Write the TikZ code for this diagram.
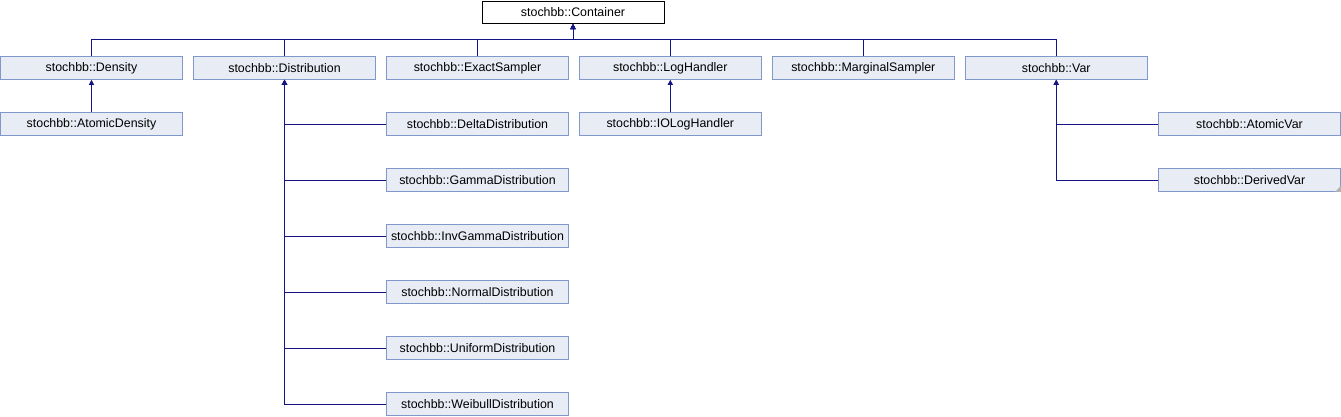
\documentclass[tikz,border=0pt]{standalone}
\usepackage{fontspec}
\setmainfont{Liberation Sans}
\usetikzlibrary{arrows.meta}

\definecolor{boxfill}{RGB}{232,236,245}
\definecolor{boxline}{RGB}{128,152,204}
\definecolor{edgeblue}{RGB}{20,20,135}

\tikzset{
  cls/.style={draw=boxline, fill=boxfill, line width=1pt, minimum width=182pt,
    minimum height=22.5pt, inner sep=0pt, font=\fontsize{12.4}{14}\selectfont},
  root/.style={cls, draw=black, fill=white},
  inherit/.style={draw=edgeblue, line width=1pt, -{Triangle[width=5pt,length=5pt]}}
}

\begin{document}
\begin{tikzpicture}[x=1pt,y=-1pt]
  \useasboundingbox (0,0) rectangle (1341,416);
  % base class
  \node[root] (container) at (573,12.3) {stochbb::Container};
  % first level
  \node[cls] (density) at (91.5,68) {stochbb::Density};
  \node[cls] (distribution) at (284.5,68) {stochbb::Distribution};
  \node[cls] (exactsampler) at (477.5,68) {stochbb::ExactSampler};
  \node[cls] (loghandler) at (670.3,68) {stochbb::LogHandler};
  \node[cls] (marginalsampler) at (863.3,68) {stochbb::MarginalSampler};
  \node[cls] (var) at (1056.2,68) {stochbb::Var};
  % second level
  \node[cls] (atomicdensity) at (91.5,124) {stochbb::AtomicDensity};
  \node[cls] (deltadist) at (477.5,124) {stochbb::DeltaDistribution};
  \node[cls] (gammadist) at (477.5,180) {stochbb::GammaDistribution};
  \node[cls] (invgammadist) at (477.5,236) {stochbb::InvGammaDistribution};
  \node[cls] (normaldist) at (477.5,292) {stochbb::NormalDistribution};
  \node[cls] (uniformdist) at (477.5,348) {stochbb::UniformDistribution};
  \node[cls] (weibulldist) at (477.5,404) {stochbb::WeibullDistribution};
  \node[cls] (iologhandler) at (670.3,124) {stochbb::IOLogHandler};
  \node[cls] (atomicvar) at (1249.5,124) {stochbb::AtomicVar};
  \node[cls] (derivedvar) at (1249.5,180) {stochbb::DerivedVar};
  \fill[gray!60] (derivedvar.south east) -- ++(-6,0) -- ++(6,-6) -- cycle; % truncated mark
  % edges to Container
  \draw[inherit] (density.north) -- ++(0,-16.5) -| (container.south);
  \draw[inherit] (distribution.north) -- ++(0,-16.5) -| (container.south);
  \draw[inherit] (exactsampler.north) -- ++(0,-16.5) -| (container.south);
  \draw[inherit] (loghandler.north) -- ++(0,-16.5) -| (container.south);
  \draw[inherit] (marginalsampler.north) -- ++(0,-16.5) -| (container.south);
  \draw[inherit] (var.north) -- ++(0,-16.5) -| (container.south);
  % edges to Density, LogHandler
  \draw[inherit] (atomicdensity.north) -- (density.south);
  \draw[inherit] (iologhandler.north) -- (loghandler.south);
  % edges to Distribution
  \draw[inherit] (deltadist.west) -| (distribution.south);
  \draw[inherit] (gammadist.west) -| (distribution.south);
  \draw[inherit] (invgammadist.west) -| (distribution.south);
  \draw[inherit] (normaldist.west) -| (distribution.south);
  \draw[inherit] (uniformdist.west) -| (distribution.south);
  \draw[inherit] (weibulldist.west) -| (distribution.south);
  % edges to Var
  \draw[inherit] (atomicvar.west) -| (var.south);
  \draw[inherit] (derivedvar.west) -| (var.south);
\end{tikzpicture}
\end{document}
